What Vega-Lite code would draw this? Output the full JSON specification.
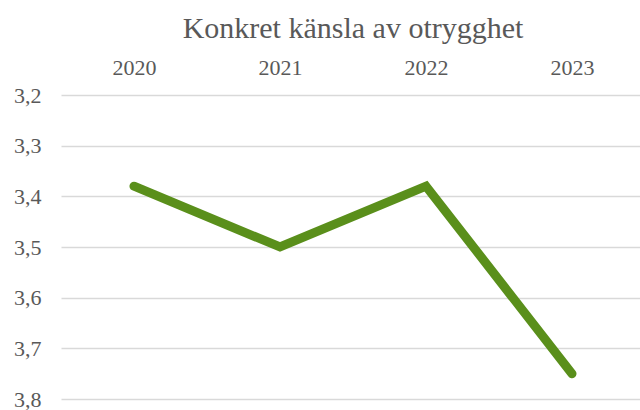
{
  "$schema": "https://vega.github.io/schema/vega-lite/v6.json",
  "autosize": {"type": "none"},
  "width": 584,
  "height": 304,
  "padding": {"left": 61, "top": 95, "right": 0, "bottom": 11},
  "background": "white",
  "title": {
    "text": "Konkret känsla av otrygghet",
    "font": "Liberation Serif",
    "fontSize": 30,
    "fontWeight": "normal",
    "color": "#595959",
    "anchor": "middle",
    "offset": 12
  },
  "config": {"view": {"stroke": null}},
  "data": {
    "values": [
      {"year": "2020", "value": 3.38},
      {"year": "2021", "value": 3.50},
      {"year": "2022", "value": 3.38},
      {"year": "2023", "value": 3.75}
    ]
  },
  "mark": {"type": "line", "color": "#5a8f1b", "strokeWidth": 9, "strokeCap": "round", "strokeJoin": "miter"},
  "encoding": {
    "x": {
      "field": "year",
      "type": "ordinal",
      "scale": {"type": "point", "padding": 0.5},
      "axis": {
        "orient": "top",
        "title": null,
        "domain": false,
        "ticks": false,
        "grid": false,
        "labelAngle": 0,
        "labelFont": "Liberation Serif",
        "labelFontSize": 22,
        "labelColor": "#595959",
        "labelPadding": 16
      }
    },
    "y": {
      "field": "value",
      "type": "quantitative",
      "scale": {"domain": [3.2, 3.8], "reverse": true, "zero": false, "nice": false},
      "axis": {
        "title": null,
        "values": [3.2, 3.3, 3.4, 3.5, 3.6, 3.7, 3.8],
        "labelExpr": "replace(format(datum.value, '.1f'), '.', ',')",
        "domain": false,
        "ticks": false,
        "grid": true,
        "gridColor": "#d9d9d9",
        "gridWidth": 1.5,
        "labelFont": "Liberation Serif",
        "labelFontSize": 22,
        "labelColor": "#595959",
        "labelPadding": 20
      }
    }
  }
}
